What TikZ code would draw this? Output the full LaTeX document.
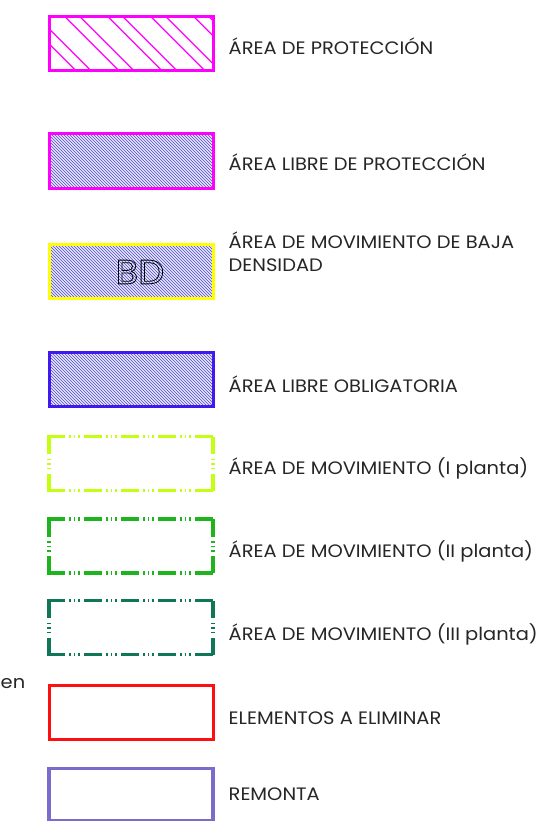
\documentclass[tikz,border=0pt]{standalone}
\usepackage{fontspec}
\setmainfont{Poppins}[FakeStretch=1.08]
\definecolor{mag}{HTML}{FF00FF}
\definecolor{hatchblue}{RGB}{104,100,214}
\definecolor{ylw}{HTML}{FFFF00}
\definecolor{violet}{RGB}{66,24,240}
\definecolor{lime}{RGB}{196,255,16}
\definecolor{grn}{RGB}{30,180,30}
\definecolor{teal}{RGB}{16,118,88}
\definecolor{red}{RGB}{255,16,16}
\definecolor{remonta}{RGB}{122,108,202}
\tikzset{
  lab/.style={font=\fontsize{18}{22.3}\selectfont, inner sep=0pt, anchor=base west, text=black!85, align=left},
  solidbox/.style={line width=3, minimum width=164, minimum height=54, inner sep=0pt, outer sep=0pt, anchor=north west},
  dbox/.style={line width=3.2, dash pattern=on 17.5 off 4.5 on 1.5 off 3 on 1.5 off 3 on 1.5 off 4.5},
  densehatch/.style={hatchblue, line width=0.8},
}
\newcommand\densefill[1]{%
  \begin{scope}
    \clip (49,#1) rectangle (213,#1+54);
    \foreach \d in {-170,-167,...,60} \draw[densehatch] (49,#1+\d) -- (213,#1+164+\d);
  \end{scope}}
\newcommand\dashedbox[3]{% #1 name, #2 top, #3 colour
  \coordinate (#1nw) at (49,#2);
  \coordinate (#1ne) at (213,#2);
  \coordinate (#1sw) at (49,#2+54);
  \coordinate (#1se) at (213,#2+54);
  \draw[dbox,#3] ([xshift=-1.6pt]#1nw) -- ([xshift=1.6pt]#1ne);
  \draw[dbox,#3] ([xshift=-1.6pt]#1sw) -- ([xshift=1.6pt]#1se);
  \draw[dbox,#3] (#1nw) -- (#1sw);
  \draw[dbox,#3] (#1ne) -- (#1se);}
\begin{document}
\begin{tikzpicture}[x=1pt,y=-1pt]
\useasboundingbox (0,0) rectangle (540,821);
% box 1
\begin{scope}
  \clip (49,16.7) rectangle (213,70.7);
  \foreach \xt in {22,37,65,80,108,123,151,166,194,209}
    \draw[mag, line width=1.3] (\xt-60,16.7-60) -- (\xt+80,16.7+80);
\end{scope}
\node[solidbox, draw=mag] (b1) at (49,16.7) {};
\node[lab] (l1) at (228.5,54.3) {ÁREA DE PROTECCIÓN};
% box 2
\densefill{134}
\node[solidbox, draw=mag] (b2) at (49,134) {};
\node[lab] (l2) at (228.5,170.5) {ÁREA LIBRE DE PROTECCIÓN};
% box 3
\densefill{244}
\node[solidbox, draw=ylw] (b3) at (49,244) {};
\node[lab] (l3) at (228.5,271) {ÁREA DE MOVIMIENTO DE BAJA\\DENSIDAD};
% box 4
\densefill{352}
\node[solidbox, draw=violet] (b4) at (49,352) {};
\node[lab] (l4) at (228.5,392) {ÁREA LIBRE OBLIGATORIA};
% box 5-7
\dashedbox{b5}{436.5}{lime}
\node[lab] (l5) at (228.5,474) {ÁREA DE MOVIMIENTO (I planta)};
\dashedbox{b6}{519}{grn}
\node[lab] (l6) at (228.5,557) {ÁREA DE MOVIMIENTO (II planta)};
\dashedbox{b7}{600.5}{teal}
\node[lab] (l7) at (228.5,640) {ÁREA DE MOVIMIENTO (III planta)};
% box 8
\node[solidbox, draw=red] (b8) at (49,685) {};
\node[lab] (l8) at (228.5,724) {ELEMENTOS A ELIMINAR};
% box 9
\node[solidbox, draw=remonta, line width=3.6, minimum height=52] (b9) at (49,768.5) {};
\node[lab] (l9) at (228.5,800) {REMONTA};
% fragment
\node[lab, anchor=base west] (en) at (0.5,688) {en};
% BD
\node[inner sep=0pt, text=black] (bd) at (140,272) {\fontsize{34}{34}\selectfont\special{pdf:literal 1 Tr 0.8 w}BD\special{pdf:literal 0 Tr 0.4 w}};
\end{tikzpicture}
\end{document}
